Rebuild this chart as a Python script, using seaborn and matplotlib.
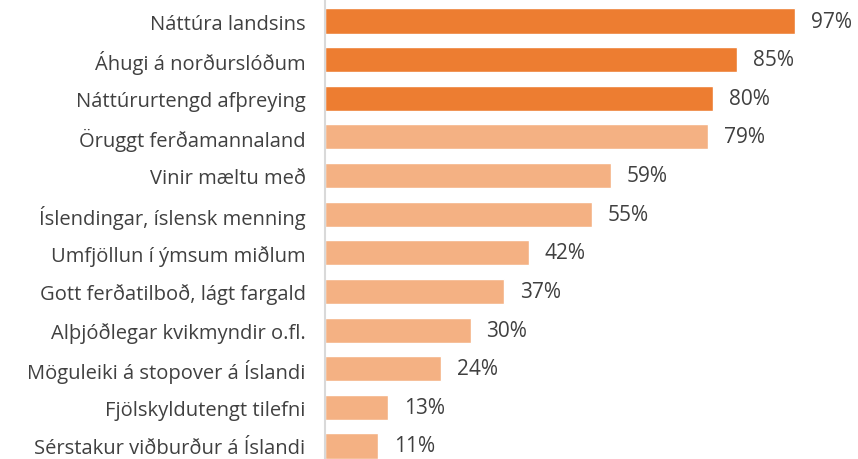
import numpy as np
import pandas as pd
import seaborn as sns
import matplotlib.pyplot as plt

categories = [
    "Náttúra landsins",
    "Áhugi á norðurslóðum",
    "Náttúrurtengd afþreying",
    "Öruggt ferðamannaland",
    "Vinir mæltu með",
    "Íslendingar, íslensk menning",
    "Umfjöllun í ýmsum miðlum",
    "Gott ferðatilboð, lágt fargald",
    "Alþjóðlegar kvikmyndir o.fl.",
    "Möguleiki á stopover á Íslandi",
    "Fjölskyldutengt tilefni",
    "Sérstakur viðburður á Íslandi",
]
values = [97, 85, 80, 79, 59, 55, 42, 37, 30, 24, 13, 11]
highlight = [True, True, True] + [False] * 9

dark = "#ED7D31"
light = "#F4B183"
text_color = "#404040"

df = pd.DataFrame({"cat": categories, "val": values})
palette = [dark if h else light for h in highlight]

sns.set_style("white")
plt.rcParams['font.family'] = ['Open Sans', 'DejaVu Sans']

fig = plt.figure(figsize=(8.58, 4.6), dpi=100)
ax = fig.add_axes([325 / 858, 0, 485 / 858, 1])

sns.barplot(data=df, x="val", y="cat", hue="cat", palette=palette,
            legend=False, width=0.65, ax=ax, saturation=1)

ax.set_xlim(0, 100)
ax.set_ylim(11 + 13 / 38.6, -0.5 - 2.7 / 38.6)
ax.set_xlabel("")
ax.set_ylabel("")
ax.set_xticks([])
for side in ["top", "right", "bottom"]:
    ax.spines[side].set_visible(False)
ax.spines["left"].set_color("#D9D9D9")
ax.spines["left"].set_linewidth(1.5)
ax.tick_params(axis="y", length=0, pad=14, labelsize=14.5, labelcolor=text_color)

# percentage labels next to the bars
for i, v in enumerate(values):
    ax.text(v + 3.2, i, f"{v}%", va="center", ha="left",
            fontsize=15, color=text_color)

fig.savefig("out.png", dpi=100)
